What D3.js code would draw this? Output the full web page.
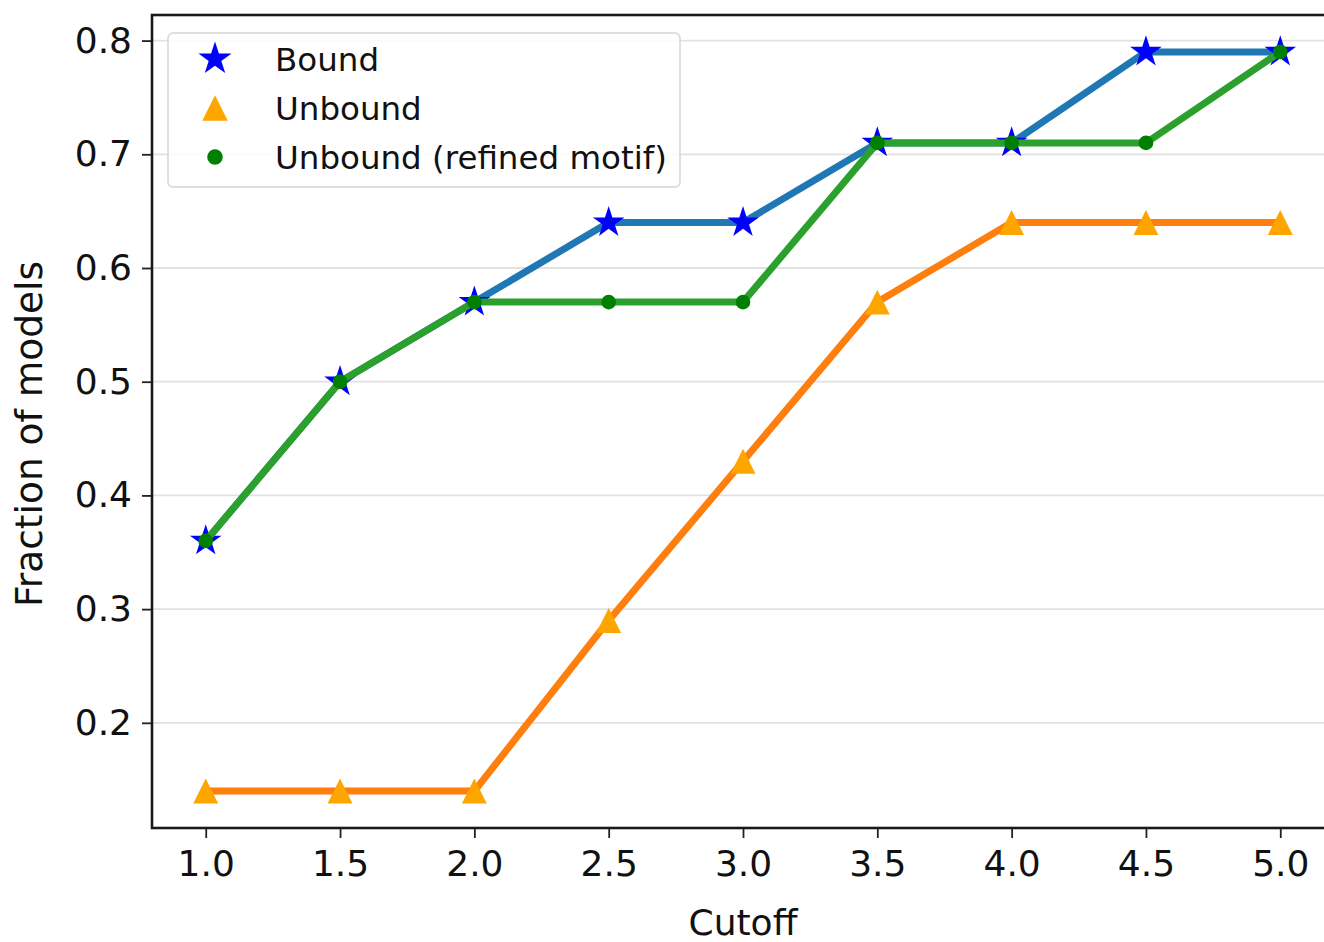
<!DOCTYPE html>
<html><head><meta charset="utf-8">
<script src="https://cdn.jsdelivr.net/npm/d3@7"></script>
<style>body{margin:0;background:#fff}svg{display:block;font-family:"DejaVu Sans",sans-serif}</style>
</head><body><svg id="c" width="1324" height="942"></svg>
<script>
const cutoffs = [1.0, 1.5, 2.0, 2.5, 3.0, 3.5, 4.0, 4.5, 5.0];
const bound = [0.36, 0.50, 0.57, 0.64, 0.64, 0.71, 0.71, 0.79, 0.79];
const unbound = [0.14, 0.14, 0.14, 0.29, 0.43, 0.57, 0.64, 0.64, 0.64];
const unboundRefined = [0.36, 0.50, 0.57, 0.57, 0.57, 0.71, 0.71, 0.71, 0.79];
const xTicks = [1.0, 1.5, 2.0, 2.5, 3.0, 3.5, 4.0, 4.5, 5.0];
const yTicks = [0.2, 0.3, 0.4, 0.5, 0.6, 0.7, 0.8];
const seriesNames = ["Bound", "Unbound", "Unbound (refined motif)"];

const svg = d3.select("#c");
const L = 152, T = 15, R = 1334, B = 828;
const x = d3.scaleLinear().domain([0.8, 5.2]).range([L, R]);
const y = d3.scaleLinear().domain([0.1075, 0.8225]).range([B, T]);

// grid
svg.append("g").selectAll("line").data(yTicks).join("line")
  .attr("x1", L).attr("x2", R).attr("y1", d => y(d)).attr("y2", d => y(d))
  .attr("stroke", "#e2e2e2").attr("stroke-width", 1.8);

// axes
const xa = svg.append("g").attr("transform", `translate(0,${B})`)
  .call(d3.axisBottom(x).tickValues(xTicks).tickFormat(d3.format(".1f")).tickSize(10).tickPadding(12));
const ya = svg.append("g").attr("transform", `translate(${L},0)`)
  .call(d3.axisLeft(y).tickValues(yTicks).tickFormat(d3.format(".1f")).tickSize(10).tickPadding(10));
[xa, ya].forEach(a => {
  a.select(".domain").remove();
  a.selectAll("line").attr("stroke", "#222").attr("stroke-width", 1.8);
  a.selectAll("text").attr("font-size", 36).attr("fill", "#111").attr("font-family", '"DejaVu Sans",sans-serif');
});
// spines
svg.append("rect").attr("x", L).attr("y", T).attr("width", R - L).attr("height", B - T)
  .attr("fill", "none").attr("stroke", "#1a1a1a").attr("stroke-width", 2.6);

// labels
svg.append("text").attr("x", x(3.0)).attr("y", 935).attr("text-anchor", "middle")
  .attr("font-size", 36).attr("fill", "#111").text("Cutoff");
svg.append("text").attr("transform", `translate(42,434) rotate(-90)`).attr("text-anchor", "middle")
  .attr("font-size", 37.5).attr("fill", "#111").text("Fraction of models");

const line = d3.line().x((d, i) => x(cutoffs[i])).y(d => y(d));
const g = svg.append("g");
const lineCols = ["#1f77b4", "#ff7f0e", "#2ca02c"];
const markCols = ["blue", "orange", "green"];
const data = [bound, unbound, unboundRefined];

const mplTriangle = {
  draw(ctx, size) {
    const r = Math.sqrt(size) / 2;
    ctx.moveTo(0, -r); ctx.lineTo(r, r); ctx.lineTo(-r, r); ctx.closePath();
  }
};
const starSym = d3.symbol().type(d3.symbolStar).size(310);
const triSym = d3.symbol().type(mplTriangle).size(620);
const circSym = d3.symbol().type(d3.symbolCircle).size(170);
const syms = [starSym, triSym, circSym];

data.forEach((vals, k) => {
  g.append("path").attr("d", line(vals)).attr("fill", "none")
    .attr("stroke", lineCols[k]).attr("stroke-width", 7).attr("stroke-linejoin", "round");
  g.append("g").selectAll("path").data(vals).join("path")
    .attr("transform", (d, i) => `translate(${x(cutoffs[i])},${y(d)})`)
    .attr("d", syms[k]()).attr("fill", markCols[k]);
});

// legend
const lg = svg.append("g");
lg.append("rect").attr("x", 168).attr("y", 33).attr("width", 512).attr("height", 154).attr("rx", 5)
  .attr("fill", "rgba(255,255,255,0.85)").attr("stroke", "#d6d6d6").attr("stroke-width", 1.5);
const legSyms = [d3.symbol().type(d3.symbolStar).size(340), d3.symbol().type(mplTriangle).size(650), d3.symbol().type(d3.symbolCircle).size(190)];
seriesNames.forEach((n, k) => {
  const yy = 59 + k * 49;
  lg.append("path").attr("transform", `translate(215,${yy})`).attr("d", legSyms[k]()).attr("fill", markCols[k]);
  lg.append("text").attr("x", 275).attr("y", yy + 12).attr("font-size", 32.5).attr("fill", "#111").text(n);
});
</script></body></html>
